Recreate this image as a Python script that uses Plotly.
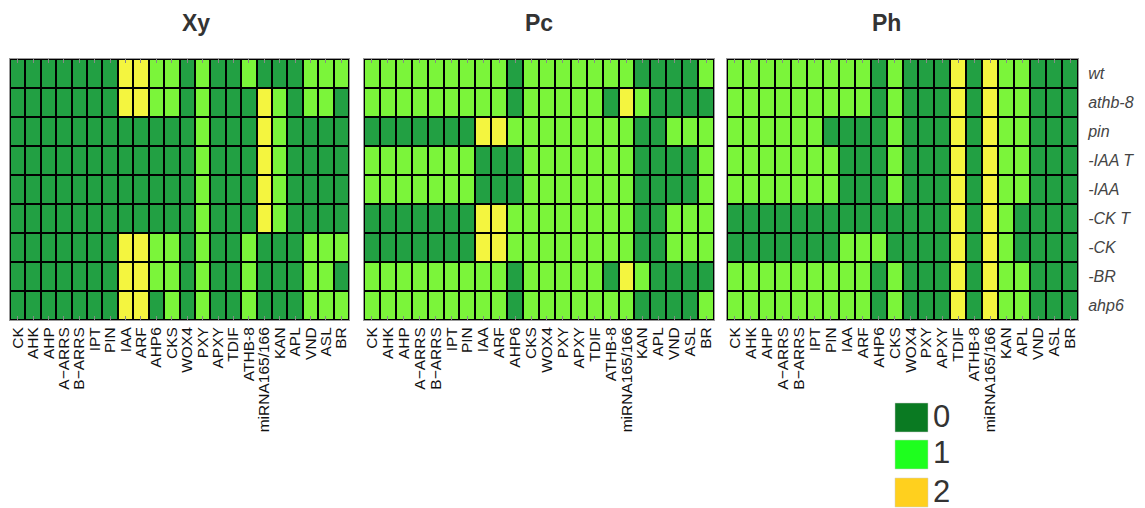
import plotly.graph_objects as go

genes = ["CK", "AHK", "AHP", "A\u2212ARRS", "B\u2212ARRS", "IPT", "PIN", "IAA", "ARF", "AHP6",
         "CKS", "WOX4", "PXY", "APXY", "TDIF", "ATHB-8", "miRNA165/166", "KAN", "APL",
         "VND", "ASL", "BR"]
conditions = ["wt", "athb-8", "pin", "-IAA T", "-IAA", "-CK T", "-CK", "-BR", "ahp6"]

xy_values = [
    [0,0,0,0,0,0,0,2,2,1,1,0,1,0,0,1,0,0,0,1,1,1],
    [0,0,0,0,0,0,0,2,2,1,1,0,1,0,0,0,2,1,0,1,1,0],
    [0,0,0,0,0,0,0,0,0,0,0,0,1,0,0,0,2,1,0,0,0,0],
    [0,0,0,0,0,0,0,0,0,0,0,0,1,0,0,0,2,1,0,0,0,0],
    [0,0,0,0,0,0,0,0,0,0,0,0,1,0,0,0,2,1,0,0,0,0],
    [0,0,0,0,0,0,0,0,0,0,0,0,1,0,0,0,2,1,0,0,0,0],
    [0,0,0,0,0,0,0,2,2,1,1,0,1,0,0,1,0,0,0,1,1,1],
    [0,0,0,0,0,0,0,2,2,1,1,0,1,0,0,1,0,0,0,1,1,0],
    [0,0,0,0,0,0,0,2,2,0,1,0,1,0,0,1,0,0,0,1,1,1],
]
pc_values = [
    [1,1,1,1,1,1,1,1,1,0,1,1,1,1,1,1,1,0,0,0,0,1],
    [1,1,1,1,1,1,1,1,1,0,1,1,1,1,1,0,2,1,0,0,0,0],
    [0,0,0,0,0,0,0,2,2,1,1,1,1,1,1,1,1,0,0,1,1,1],
    [1,1,1,1,1,1,1,0,0,0,1,1,1,1,1,1,1,0,0,0,0,1],
    [1,1,1,1,1,1,1,0,0,0,1,1,1,1,1,1,1,0,0,0,0,1],
    [0,0,0,0,0,0,0,2,2,1,1,1,1,1,1,1,1,0,0,1,1,1],
    [0,0,0,0,0,0,0,2,2,1,1,1,1,1,1,1,1,0,0,1,1,1],
    [1,1,1,1,1,1,1,1,1,0,1,1,1,1,1,0,2,1,0,0,0,0],
    [1,1,1,1,1,1,1,1,1,0,1,1,1,1,1,1,1,0,0,0,0,1],
]
ph_values = [
    [1,1,1,1,1,1,1,1,1,0,1,0,0,0,2,0,2,1,1,0,0,0],
    [1,1,1,1,1,1,1,1,1,0,1,0,0,0,2,0,2,1,1,0,0,0],
    [1,1,1,1,1,1,0,0,0,0,1,0,0,0,2,0,2,1,1,0,0,0],
    [1,1,1,1,1,1,1,0,0,0,1,0,0,0,2,0,2,1,1,0,0,0],
    [1,1,1,1,1,1,1,0,0,0,1,0,0,0,2,0,2,1,1,0,0,0],
    [0,0,0,0,0,0,0,0,0,0,0,0,0,0,2,0,2,1,0,0,0,0],
    [0,0,0,0,0,0,0,1,1,1,0,0,0,0,2,0,2,1,0,0,0,0],
    [1,1,1,1,1,1,1,1,1,0,1,0,0,0,2,0,2,1,1,0,0,0],
    [1,1,1,1,1,1,1,1,1,0,1,0,0,0,2,0,2,1,1,0,0,0],
]
panel_titles = ["Xy", "Pc", "Ph"]
legend_levels = ["0", "1", "2"]

cell_colors = ["#22A043", "#7BF53A", "#F4F53F"]
legend_colors = ["#0A7A22", "#1EFF1E", "#FFD01E"]

# page body has an 8px default margin; target screen pixels are offset by it
OFF = 8
W, H = 1145 - OFF, 508 - OFF
ML, MR, MT, MB = 2, 59, 51, 188
PW = W - ML - MR
PH = H - MT - MB

def px_x(p):
    return (p - OFF - ML) / PW

def px_y(p):
    return (H - MB - (p - OFF)) / PH

domains = [[px_x(10), px_x(349)], [px_x(364), px_x(714)], [px_x(727), px_x(1078)]]

fig = go.Figure()
colorscale = [[0, cell_colors[0]], [0.5, cell_colors[1]], [1, cell_colors[2]]]
for i, vals in enumerate([xy_values, pc_values, ph_values]):
    suffix = "" if i == 0 else str(i + 1)
    fig.add_trace(go.Heatmap(
        z=vals, x=genes, y=conditions, zmin=0, zmax=2,
        colorscale=colorscale, showscale=False, xgap=2, ygap=2,
        xaxis="x" + suffix, yaxis="y" + suffix, hoverinfo="skip",
    ))
    xa = dict(domain=domains[i], anchor="y" + suffix, tickangle=-90,
              tickmode="array", tickvals=genes, ticktext=genes, automargin=False,
              tickfont=dict(family="Liberation Sans, Arial", size=15.5, color="#111"),
              ticks="inside", ticklen=4, tickcolor="#888", mirror="ticks",
              showline=True, linecolor="#999", linewidth=1, showgrid=False,
              zeroline=False, fixedrange=True)
    ya = dict(domain=[0, 1], anchor="x" + suffix, autorange="reversed", automargin=False,
              showgrid=False, zeroline=False, showline=True, mirror=True,
              linecolor="#999", linewidth=1, ticks="", fixedrange=True)
    if i == 2:
        ya.update(side="right", showticklabels=True,
                  tickmode="array", tickvals=conditions,
                  ticktext=["<i>%s</i>" % c for c in conditions],
                  ticklabelstandoff=6,
                  tickfont=dict(family="Liberation Sans, Arial", size=16, color="#444"))
    else:
        ya.update(showticklabels=False)
    fig.layout["xaxis" + suffix] = xa
    fig.layout["yaxis" + suffix] = ya
    fig.add_annotation(text="<b>%s</b>" % panel_titles[i], xref="paper", yref="paper",
                       x=(domains[i][0] + domains[i][1]) / 2, y=px_y(23),
                       showarrow=False, yanchor="middle",
                       font=dict(family="Liberation Sans, Arial", size=23, color="#333"))

# custom legend
leg_tops = [403, 440, 478]
for lvl, col, top in zip(legend_levels, legend_colors, leg_tops):
    fig.add_shape(type="rect", xref="paper", yref="paper",
                  x0=px_x(895), x1=px_x(928), y0=px_y(top), y1=px_y(top + 29),
                  fillcolor=col, line=dict(color="#CCCCCC", width=0.5))
    fig.add_annotation(text=lvl, xref="paper", yref="paper", x=px_x(931),
                       y=px_y(top + 13), xanchor="left", yanchor="middle",
                       showarrow=False,
                       font=dict(family="Liberation Sans, Arial", size=31, color="#333"))

fig.update_layout(width=W, height=H, margin=dict(l=ML, r=MR, t=MT, b=MB),
                  plot_bgcolor="black", paper_bgcolor="white", showlegend=False)
fig.write_html("out.html")
